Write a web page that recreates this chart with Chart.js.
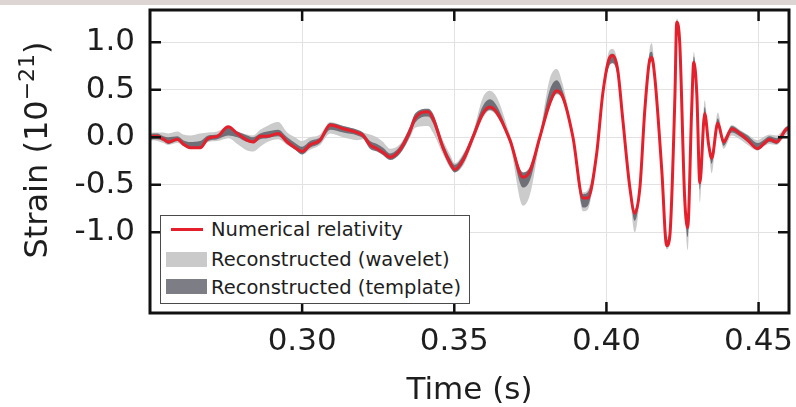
<!DOCTYPE html>
<html>
<head>
<meta charset="utf-8">
<script src="https://cdn.jsdelivr.net/npm/chart.js@4.4.1/dist/chart.umd.min.js"></script>
<style>
  html, body { margin: 0; padding: 0; background: #fff; }
  #wrap { position: relative; width: 796px; height: 407px; overflow: hidden; font-family: "DejaVu Sans", sans-serif; }
  #topband { position: absolute; left: 0; top: 0; width: 796px; height: 5px; background: #ddd4d4; z-index: 2; }
  #legend { position: absolute; left: 160px; top: 215px; width: 308px; height: 87px; border: 1.5px solid #4a4a4a; background: #fff; z-index: 2; }
  #legend .row { position: absolute; left: 50px; height: 24px; line-height: 24px; font-size: 19.5px; color: #1e1e1e; white-space: nowrap; }
  #legend .sw { position: absolute; left: 5px; width: 41px; height: 15px; }
</style>
</head>
<body>
<div id="wrap">
  <div id="topband"></div>
  <canvas id="chart" width="796" height="407"></canvas>
  <div id="legend">
    <div style="position:absolute;left:10px;top:12px;width:32px;height:3px;background:#e3202b;"></div>
    <div class="row" style="top:2px;">Numerical relativity</div>
    <div class="sw" style="top:36px;background:#cacaca;"></div>
    <div class="row" style="top:32px;">Reconstructed (wavelet)</div>
    <div class="sw" style="top:63px;background:#7d7d86;"></div>
    <div class="row" style="top:60px;">Reconstructed (template)</div>
  </div>
</div>
<script>
// tiempos (s) y deformación (1e-21)
const times = [
  0.2501, 0.2511, 0.2524, 0.2544, 0.2560, 0.2590, 0.2609, 0.2632, 0.2665, 0.2691,
  0.2721, 0.2757, 0.2787, 0.2819, 0.2839, 0.2862, 0.2885, 0.2921, 0.2951, 0.2977,
  0.3000, 0.3026, 0.3059, 0.3092, 0.3135, 0.3181, 0.3200, 0.3223, 0.3246, 0.3266,
  0.3289, 0.3322, 0.3355, 0.3371, 0.3414, 0.3430, 0.3463, 0.3486, 0.3502, 0.3529,
  0.3561, 0.3594, 0.3617, 0.3640, 0.3683, 0.3726, 0.3749, 0.3781, 0.3814, 0.3837,
  0.3857, 0.3890, 0.3923, 0.3939, 0.3968, 0.3988, 0.4011, 0.4021, 0.4037, 0.4054,
  0.4077, 0.4093, 0.4110, 0.4126, 0.4142, 0.4149, 0.4159, 0.4182, 0.4198, 0.4208,
  0.4225, 0.4231, 0.4241, 0.4257, 0.4267, 0.4280, 0.4287, 0.4297, 0.4307, 0.4323,
  0.4336, 0.4346, 0.4366, 0.4385, 0.4412, 0.4438, 0.4464, 0.4497, 0.4520, 0.4536,
  0.4559, 0.4592, 0.4600
];

const numRel = [
  0.00, 0.01, 0.01, -0.02, -0.05, -0.02, -0.07, -0.11, -0.11, -0.01,
  0.01, 0.11, 0.04, -0.03, -0.05, 0.01, 0.01, 0.04, -0.05, -0.11,
  -0.15, -0.08, -0.03, 0.13, 0.09, 0.05, 0.02, -0.08, -0.12, -0.16,
  -0.21, -0.13, 0.07, 0.20, 0.27, 0.20, -0.11, -0.27, -0.34, -0.24,
  0.00, 0.25, 0.32, 0.26, -0.03, -0.42, -0.35, 0.00, 0.36, 0.49,
  0.42, 0.00, -0.64, -0.64, -0.17, 0.46, 0.84, 0.86, 0.71, 0.18,
  -0.53, -0.80, -0.53, 0.28, 0.81, 0.84, 0.63, -0.35, -1.14, -1.05,
  0.42, 1.21, 0.99, -0.63, -0.95, 0.28, 0.79, 0.46, -0.48, 0.25,
  -0.08, -0.22, 0.15, -0.05, 0.09, 0.04, -0.03, -0.12, -0.06, -0.02,
  -0.05, 0.09, 0.10
];

const waveletLow = [
  -0.04, -0.03, -0.04, -0.06, -0.08, -0.06, -0.09, -0.12, -0.12, -0.05,
  -0.04, -0.01, -0.07, -0.14, -0.15, -0.10, -0.05, -0.02, -0.08, -0.13,
  -0.18, -0.13, -0.08, 0.04, 0.00, -0.03, -0.02, -0.10, -0.14, -0.18,
  -0.23, -0.17, 0.00, 0.10, 0.12, 0.05, -0.18, -0.32, -0.37, -0.30,
  -0.06, 0.20, 0.28, 0.22, -0.08, -0.72, -0.60, -0.06, 0.32, 0.45,
  0.38, -0.05, -0.78, -0.76, -0.22, 0.41, 0.78, 0.80, 0.65, 0.13,
  -0.60, -1.00, -0.62, 0.23, 0.76, 0.79, 0.58, -0.40, -1.18, -1.10,
  0.37, 1.10, 0.90, -0.70, -1.19, 0.23, 0.74, 0.41, -0.69, 0.20,
  -0.13, -0.38, 0.10, -0.12, 0.02, -0.02, -0.08, -0.14, -0.09, -0.07,
  -0.08, 0.03, 0.04
];

const waveletHigh = [
  0.05, 0.05, 0.05, 0.05, 0.04, 0.06, 0.03, 0.02, 0.04, 0.05,
  0.06, 0.11, 0.06, 0.03, 0.02, 0.08, 0.12, 0.16, 0.05, 0.00,
  -0.04, 0.00, 0.03, 0.16, 0.12, 0.08, 0.05, 0.03, 0.00, -0.05,
  -0.12, -0.07, 0.12, 0.24, 0.29, 0.24, -0.03, -0.18, -0.27, -0.17,
  0.05, 0.42, 0.49, 0.42, 0.03, -0.37, -0.30, 0.04, 0.62, 0.72,
  0.55, 0.04, -0.58, -0.55, -0.12, 0.51, 0.92, 0.93, 0.78, 0.23,
  -0.48, -0.75, -0.48, 0.33, 0.93, 0.99, 0.70, -0.30, -1.05, -0.98,
  0.47, 1.25, 1.04, -0.58, -0.84, 0.33, 0.90, 0.52, -0.43, 0.39,
  -0.02, -0.17, 0.26, 0.00, 0.13, 0.08, 0.03, -0.03, 0.01, 0.03,
  0.02, 0.12, 0.13
];

const templateLow = [
  -0.03, -0.02, -0.02, -0.04, -0.07, -0.04, -0.09, -0.12, -0.12, -0.04,
  -0.02, 0.02, 0.00, -0.05, -0.06, -0.02, -0.01, 0.01, -0.07, -0.13,
  -0.18, -0.11, -0.06, 0.08, 0.05, 0.02, -0.01, -0.12, -0.15, -0.19,
  -0.24, -0.17, 0.02, 0.15, 0.22, 0.15, -0.15, -0.31, -0.37, -0.28,
  -0.04, 0.22, 0.29, 0.23, -0.06, -0.53, -0.45, -0.04, 0.33, 0.46,
  0.39, -0.03, -0.74, -0.72, -0.20, 0.43, 0.76, 0.78, 0.64, 0.15,
  -0.57, -0.88, -0.58, 0.25, 0.78, 0.80, 0.60, -0.38, -1.16, -1.08,
  0.39, 1.12, 0.93, -0.67, -1.05, 0.25, 0.76, 0.43, -0.55, 0.22,
  -0.11, -0.28, 0.12, -0.09, 0.05, 0.01, -0.05, -0.13, -0.08, -0.05,
  -0.07, 0.06, 0.07
];

const templateHigh = [
  0.03, 0.04, 0.04, 0.01, 0.00, 0.01, -0.03, -0.05, -0.04, 0.02,
  0.03, 0.10, 0.06, 0.02, 0.00, 0.04, 0.06, 0.08, 0.00, -0.06,
  -0.10, -0.04, 0.00, 0.15, 0.12, 0.08, 0.05, -0.04, -0.07, -0.11,
  -0.17, -0.09, 0.12, 0.25, 0.30, 0.25, -0.06, -0.22, -0.29, -0.19,
  0.04, 0.33, 0.40, 0.33, 0.00, -0.37, -0.31, 0.03, 0.50, 0.60,
  0.48, 0.03, -0.60, -0.58, -0.14, 0.49, 0.87, 0.88, 0.74, 0.21,
  -0.50, -0.77, -0.50, 0.31, 0.88, 0.90, 0.67, -0.32, -1.08, -1.00,
  0.45, 1.23, 1.02, -0.60, -0.88, 0.31, 0.85, 0.50, -0.45, 0.32,
  -0.05, -0.19, 0.20, -0.02, 0.12, 0.07, 0.02, -0.06, -0.02, 0.01,
  -0.01, 0.11, 0.12
];

const xTickValues = [0.30, 0.35, 0.40, 0.45];
const yTickValues = [-1.0, -0.5, 0.0, 0.5, 1.0];

const FONT = '"DejaVu Sans", sans-serif';
const INK = '#1e1e1e';

function pts(values) {
    return times.map((t, i) => ({ x: t, y: values[i] }));
}

// marco negro y marcas hacia dentro en los cuatro lados
const frameTicks = {
    id: 'frameTicks',
    afterDraw(chart) {
        const { ctx, chartArea: a, scales: { x, y } } = chart;
        const len = 11;
        ctx.save();
        ctx.strokeStyle = '#111';
        ctx.lineWidth = 2.5;
        ctx.beginPath();
        xTickValues.forEach(v => {
            const px = x.getPixelForValue(v);
            ctx.moveTo(px, a.bottom); ctx.lineTo(px, a.bottom - len);
            ctx.moveTo(px, a.top); ctx.lineTo(px, a.top + len);
        });
        yTickValues.forEach(v => {
            const py = y.getPixelForValue(v);
            ctx.moveTo(a.left, py); ctx.lineTo(a.left + len, py);
            ctx.moveTo(a.right, py); ctx.lineTo(a.right - len, py);
        });
        ctx.stroke();
        ctx.lineWidth = 3;
        ctx.strokeRect(a.left, a.top, a.right - a.left, a.bottom - a.top);
        ctx.restore();
    }
};

// titulo del eje y con exponente
const yTitle = {
    id: 'yTitle',
    afterDraw(chart) {
        const ctx = chart.ctx;
        const big = '32px ' + FONT;
        const small = '22px ' + FONT;
        ctx.save();
        ctx.translate(35, 150);
        ctx.rotate(-Math.PI / 2);
        ctx.fillStyle = INK;
        ctx.textBaseline = 'alphabetic';
        ctx.font = big;
        const w1 = ctx.measureText('Strain (10').width;
        const w3 = ctx.measureText(')').width;
        ctx.font = small;
        const w2 = ctx.measureText('\u221221').width;
        let x = -(w1 + w2 + w3) / 2;
        const base = 12;
        ctx.font = big;
        ctx.fillText('Strain (10', x, base);
        x += w1;
        ctx.font = small;
        ctx.fillText('\u221221', x, base - 13);
        x += w2;
        ctx.font = big;
        ctx.fillText(')', x, base);
        ctx.restore();
    }
};

new Chart(document.getElementById('chart'), {
    type: 'line',
    data: {
        datasets: [
            {
                label: 'Numerical relativity',
                data: pts(numRel),
                borderColor: '#e3202b',
                borderWidth: 3,
                fill: false,
                order: 0
            },
            {
                label: 'template low',
                data: pts(templateLow),
                borderColor: 'rgba(0,0,0,0)',
                fill: false,
                order: 1
            },
            {
                label: 'Reconstructed (template)',
                data: pts(templateHigh),
                borderColor: 'rgba(0,0,0,0)',
                backgroundColor: 'rgba(98,98,108,0.88)',
                fill: '-1',
                order: 1
            },
            {
                label: 'wavelet low',
                data: pts(waveletLow),
                borderColor: 'rgba(0,0,0,0)',
                fill: false,
                order: 2
            },
            {
                label: 'Reconstructed (wavelet)',
                data: pts(waveletHigh),
                borderColor: 'rgba(0,0,0,0)',
                backgroundColor: '#cbcbcb',
                fill: '-1',
                order: 2
            }
        ]
    },
    options: {
        responsive: false,
        animation: false,
        events: [],
        layout: { padding: { left: 0, right: 7, top: 10, bottom: 0 } },
        elements: {
            point: { radius: 0 },
            line: { cubicInterpolationMode: 'monotone', borderWidth: 0 }
        },
        plugins: {
            legend: { display: false },
            tooltip: { enabled: false }
        },
        scales: {
            x: {
                type: 'linear',
                min: 0.25,
                max: 0.46,
                afterBuildTicks: s => { s.ticks = xTickValues.map(v => ({ value: v })); },
                afterFit: s => { s.height = 94; s.paddingLeft = 0; s.paddingRight = 0; },
                grid: { color: '#e2e2e2', lineWidth: 1, drawTicks: false },
                border: { display: false },
                ticks: {
                    autoSkip: false,
                    maxRotation: 0,
                    padding: 10,
                    color: INK,
                    font: { family: FONT, size: 31 },
                    callback: v => v.toFixed(2)
                },
                title: {
                    display: true,
                    text: 'Time (s)',
                    color: INK,
                    font: { family: FONT, size: 31 },
                    padding: { top: 0, bottom: -3 }
                }
            },
            y: {
                min: -1.85,
                max: 1.34,
                afterBuildTicks: s => { s.ticks = yTickValues.map(v => ({ value: v })); },
                afterFit: s => { s.width = 150; s.paddingTop = 0; s.paddingBottom = 0; },
                grid: { color: '#e2e2e2', lineWidth: 1, drawTicks: false },
                border: { display: false },
                ticks: {
                    padding: 15,
                    color: INK,
                    font: { family: FONT, size: 31 },
                    callback: v => v.toFixed(1)
                }
            }
        }
    },
    plugins: [frameTicks, yTitle]
});
</script>
</body>
</html>
